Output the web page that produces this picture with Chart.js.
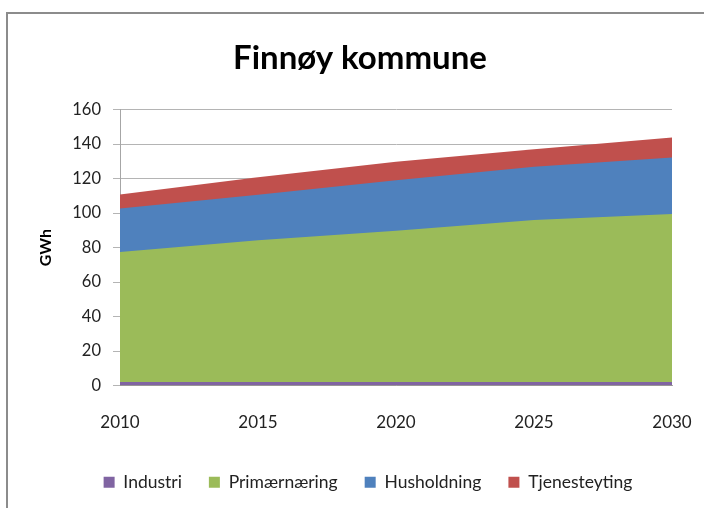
<!DOCTYPE html>
<html>
<head>
<meta charset="utf-8">
<script src="https://cdn.jsdelivr.net/npm/chart.js@4"></script>
<style>
  html, body { margin: 0; padding: 0; background: #fff; overflow: hidden; }
  #frame { position: absolute; left: 6px; top: 12px; width: 720px; height: 520px; border: 2px solid #8c8c8c; box-sizing: border-box; }
  #wrap { position: absolute; left: 0; top: 0; width: 704px; height: 508px; }
</style>
</head>
<body>
<div id="frame"></div>
<div id="wrap"><canvas id="c" width="704" height="508"></canvas></div>
<script>
const years = ['2010', '2015', '2020', '2025', '2030'];
const industri = [2, 2, 2, 2, 2];
const primaer = [75.4, 82.2, 87.7, 94.0, 97.5];
const husholdning = [25.2, 26.4, 29.3, 30.8, 32.7];
const tjeneste = [8.2, 10.1, 10.7, 10.2, 11.6];
const yTicks = [0, 20, 40, 60, 80, 100, 120, 140, 160];

const FONT = 'Lato';

function area(label, data, color) {
  return {
    label, data,
    backgroundColor: color,
    borderColor: color,
    borderWidth: 0,
    pointRadius: 0,
    tension: 0,
    fill: true,
  };
}

// nudge title and legend sideways, Excel centres them a bit right of the canvas middle
const nudge = {
  id: 'nudge',
  afterLayout(chart) {
    chart.titleBlock.left += 14;
    chart.titleBlock.right += 14;
    chart.legend.left += 22;
    chart.legend.right += 22;
  }
};

new Chart(document.getElementById('c').getContext('2d'), {
  type: 'line',
  data: {
    labels: years,
    datasets: [
      area('Industri', industri, '#8064a2'),
      area('Primærnæring', primaer, '#9bbb59'),
      area('Husholdning', husholdning, '#4f81bd'),
      area('Tjenesteyting', tjeneste, '#c0504d'),
    ]
  },
  plugins: [nudge],
  options: {
    responsive: false,
    animation: false,
    layout: { padding: { left: 20, right: 32, top: 18, bottom: 7 } },
    plugins: {
      title: {
        display: true,
        text: 'Finnøy kommune',
        color: '#000',
        font: { family: FONT, size: 33, weight: 'bold' },
        padding: { top: 21, bottom: 31 }
      },
      legend: {
        position: 'bottom',
        labels: {
          color: '#222',
          font: { family: FONT, size: 17.5 },
          boxWidth: 11, boxHeight: 11,
          padding: 27,
        }
      },
      tooltip: { enabled: false }
    },
    scales: {
      x: {
        offset: false,
        grid: { display: false, drawOnChartArea: false, drawTicks: true, tickLength: 9, color: '#a6a6a6' },
        border: { color: '#a6a6a6', width: 1 },
        ticks: { color: '#222', font: { family: FONT, size: 17 }, padding: 18, maxRotation: 0 },
        afterFit: (s) => { s.height = 61; s.paddingLeft = 0; s.paddingRight = 0; }
      },
      y: {
        stacked: true,
        min: 0, max: 160,
        afterBuildTicks: (s) => { s.ticks = yTicks.map(v => ({ value: v })); },
        grid: { color: '#b4b4b4', tickLength: 7 },
        border: { color: '#a6a6a6', display: true },
        ticks: { color: '#222', font: { family: FONT, size: 16.5 }, padding: 12 },
        title: { display: true, text: 'GWh', color: '#000', font: { family: FONT, size: 16, weight: 'bold' }, padding: { top: 16, bottom: 0 } },
        afterFit: (s) => { s.width = 100; }
      }
    }
  }
});
</script>
</body>
</html>
